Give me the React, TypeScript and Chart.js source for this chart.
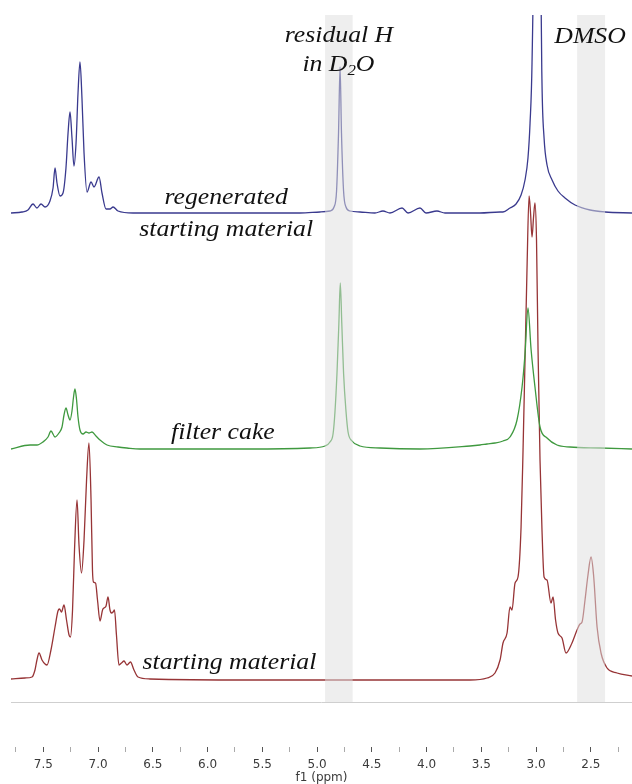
import React, { useEffect, useRef } from "react";
import { Chart, registerables } from "chart.js";

Chart.register(...registerables);

// ---- axis ----
const shiftMin = 2.124;
const shiftMax = 7.795;
const tickStep = 0.25;
const axisTitle = "f1 (ppm)";

// ---- regenerated starting material (blue) ----
const blueShift = [
  7.795, 7.695, 7.64, 7.594, 7.558, 7.521, 7.484, 7.439, 7.411, 7.393, 7.375, 7.347, 7.32, 7.293, 7.274, 7.256,
  7.238, 7.22, 7.201, 7.183, 7.165, 7.147, 7.128, 7.101, 7.064, 7.037, 6.991, 6.964, 6.927, 6.891, 6.863, 6.818,
  6.681, 6.069, 5.156, 4.973, 4.882, 4.845, 4.822, 4.804, 4.79, 4.777, 4.758, 4.736, 4.699, 4.608, 4.471, 4.398,
  4.334, 4.224, 4.169, 4.06, 4.005, 3.905, 3.832, 3.512, 3.329, 3.302, 3.238, 3.183, 3.137, 3.101, 3.074, 3.055,
  3.037, 3.019, 2.991, 2.964, 2.946, 2.927, 2.9, 2.854, 2.8, 2.736, 2.644, 2.507, 2.37, 2.124,
];
const blueIntensity = [
  0, 1, 3, 9, 5, 9, 6, 12, 25, 45, 30, 17, 20, 45, 80, 101,
  75, 47, 70, 120, 151, 115, 60, 21, 31, 26, 36, 20, 4, 4, 6, 2,
  0, 0, 0, 1, 2, 6, 22, 80, 146, 80, 22, 6, 2, 1, 0, 2,
  0, 5, 0, 5, 0, 2, 0, 0, 1, 1, 5, 9, 18, 33, 55, 90,
  150, 320, 1100, 320, 130, 75, 48, 33, 22, 15, 8, 3, 1, 0,
];

// ---- filter cake (green) ----
const greenShift = [
  7.795, 7.621, 7.558, 7.503, 7.457, 7.43, 7.393, 7.357, 7.329, 7.311, 7.293, 7.274, 7.256, 7.238, 7.224, 7.211,
  7.197, 7.183, 7.165, 7.137, 7.11, 7.083, 7.055, 7.019, 6.982, 6.918, 6.818, 6.736, 6.617, 5.612, 5.064, 4.927,
  4.882, 4.854, 4.836, 4.818, 4.801, 4.788, 4.774, 4.758, 4.736, 4.717, 4.681, 4.608, 4.425, 4.06, 3.603, 3.512,
  3.448, 3.375, 3.302, 3.238, 3.174, 3.128, 3.101, 3.074, 3.046, 3.01, 2.964, 2.9, 2.809, 2.69, 2.416, 2.124,
];
const greenIntensity = [
  0, 4, 4, 7, 12, 18, 12, 16, 22, 34, 41, 34, 29, 38, 52, 60,
  50, 32, 19, 15, 17, 16, 17, 13, 9, 4, 2, 1, 0, 0, 1, 3,
  7, 15, 38, 76, 125, 166, 125, 76, 38, 17, 8, 3, 1, 0, 3, 4,
  5, 6, 8, 12, 29, 62, 95, 141, 100, 62, 22, 11, 4, 2, 1, 0,
];

// ---- starting material (red) ----
const redShift = [
  7.795, 7.667, 7.603, 7.576, 7.558, 7.539, 7.512, 7.484, 7.466, 7.43, 7.393, 7.366, 7.352, 7.334, 7.311, 7.288,
  7.265, 7.252, 7.233, 7.215, 7.192, 7.174, 7.151, 7.128, 7.105, 7.083, 7.064, 7.051, 7.042, 7.023, 7.005, 6.982,
  6.959, 6.946, 6.927, 6.909, 6.891, 6.877, 6.863, 6.85, 6.832, 6.809, 6.786, 6.763, 6.736, 6.704, 6.672, 6.635,
  6.526, 5.612, 4.882, 4.06, 3.603, 3.448, 3.375, 3.329, 3.302, 3.265, 3.238, 3.22, 3.192, 3.165, 3.137, 3.119,
  3.101, 3.083, 3.064, 3.051, 3.037, 3.023, 3.01, 2.996, 2.982, 2.964, 2.946, 2.927, 2.9, 2.864, 2.845, 2.822,
  2.8, 2.763, 2.727, 2.672, 2.626, 2.599, 2.58, 2.553, 2.526, 2.498, 2.475, 2.443, 2.407, 2.352, 2.261, 2.124,
];
const redIntensity = [
  1, 2, 3, 10, 20, 27, 20, 16, 15, 30, 53, 69, 71, 68, 75, 60,
  45, 43, 70, 130, 180, 135, 107, 140, 200, 237, 180, 110, 98, 97, 80, 59,
  70, 72, 74, 83, 70, 67, 68, 70, 45, 15, 17, 19, 15, 18, 10, 3,
  1, 0, 0, 0, 0, 2, 7, 20, 37, 47, 73, 70, 97, 103, 153, 230,
  320, 410, 484, 468, 443, 463, 477, 440, 330, 220, 150, 103, 100, 77, 83, 60,
  47, 42, 27, 37, 50, 56, 58, 80, 105, 123, 105, 53, 27, 12, 7, 4,
];

// vertical stacking offsets of the three traces
const offsetBlue = 534;
const offsetGreen = 298;
const offsetRed = 67;
const yTop = 732;
const floorLevel = 45;

// shaded solvent regions (ppm)
const bandStart = [4.927, 2.625];
const bandEnd = [4.675, 2.37];

// annotations
const noteText = ["regenerated", "starting material", "filter cake", "starting material", "residual H", "DMSO"];
const noteShift = [5.83, 5.83, 5.86, 5.8, 4.8, 2.507];
const noteLevel = [543, 511, 308, 78, 705, 704];
const d2oParts = ["in D", "2", "O"];
const d2oShift = 4.805;
const d2oLevel = 676;

const toPoints = (xs: number[], ys: number[], off: number) => xs.map((x, i) => ({ x, y: ys[i] + off }));

const SERIF = '"Liberation Serif", "Times New Roman", serif';
const STRETCH = 1.12;

const overlayPlugin = {
  id: "nmrOverlay",
  beforeDatasetsDraw(chart: any) {
    const { ctx, chartArea, scales } = chart;
    const y = Math.round(scales.y.getPixelForValue(floorLevel)) + 0.5;
    ctx.save();
    ctx.strokeStyle = "#cfcfcf";
    ctx.lineWidth = 1;
    ctx.beginPath();
    ctx.moveTo(chartArea.left, y);
    ctx.lineTo(chartArea.right, y);
    ctx.stroke();
    ctx.restore();
  },
  afterDatasetsDraw(chart: any) {
    const { ctx, chartArea, scales } = chart;
    const yb = scales.y.getPixelForValue(floorLevel);
    ctx.save();
    ctx.fillStyle = "rgba(222,222,222,0.52)";
    for (let i = 0; i < bandStart.length; i++) {
      const a = scales.x.getPixelForValue(bandStart[i]);
      const b = scales.x.getPixelForValue(bandEnd[i]);
      ctx.fillRect(Math.min(a, b), chartArea.top, Math.abs(b - a), yb - chartArea.top);
    }
    ctx.restore();
  },
  afterDraw(chart: any) {
    const { ctx, scales } = chart;
    ctx.save();
    ctx.fillStyle = "#111";
    ctx.textBaseline = "alphabetic";
    ctx.font = `italic 23px ${SERIF}`;
    for (let i = 0; i < noteText.length; i++) {
      const px = scales.x.getPixelForValue(noteShift[i]);
      const py = scales.y.getPixelForValue(noteLevel[i]);
      ctx.save();
      ctx.translate(px, py);
      ctx.scale(STRETCH, 1);
      ctx.textAlign = "center";
      ctx.fillText(noteText[i], 0, 0);
      ctx.restore();
    }
    // "in D2O" with subscript
    const px = scales.x.getPixelForValue(d2oShift);
    const py = scales.y.getPixelForValue(d2oLevel);
    ctx.save();
    ctx.translate(px, py);
    ctx.scale(STRETCH, 1);
    ctx.textAlign = "left";
    ctx.font = `italic 23px ${SERIF}`;
    const w1 = ctx.measureText(d2oParts[0]).width;
    const w3 = ctx.measureText(d2oParts[2]).width;
    ctx.font = `italic 15px ${SERIF}`;
    const w2 = ctx.measureText(d2oParts[1]).width;
    let sx = -(w1 + w2 + w3) / 2;
    ctx.font = `italic 23px ${SERIF}`;
    ctx.fillText(d2oParts[0], sx, 0);
    sx += w1;
    ctx.font = `italic 15px ${SERIF}`;
    ctx.fillText(d2oParts[1], sx, 4);
    sx += w2;
    ctx.font = `italic 23px ${SERIF}`;
    ctx.fillText(d2oParts[2], sx, 0);
    ctx.restore();
    ctx.restore();
  },
};

const isMajor = (v: number) => Math.abs(v * 2 - Math.round(v * 2)) < 1e-6;

export default function App() {
  const ref = useRef<HTMLCanvasElement | null>(null);
  useEffect(() => {
    if (!ref.current) return;
    const line = (data: any, color: string) => ({
      data,
      borderColor: color,
      borderWidth: 1.3,
      pointRadius: 0,
      fill: false,
      cubicInterpolationMode: "monotone" as const,
    });
    const chart = new Chart(ref.current, {
      type: "line",
      data: {
        datasets: [
          line(toPoints(blueShift, blueIntensity, offsetBlue), "#3a3a8e"),
          line(toPoints(greenShift, greenIntensity, offsetGreen), "#3f993f"),
          line(toPoints(redShift, redIntensity, offsetRed), "#973436"),
        ],
      },
      options: {
        animation: false,
        responsive: false,
        devicePixelRatio: 1,
        events: [],
        layout: { padding: { left: 11, top: 15, right: 0, bottom: 0 } },
        plugins: { legend: { display: false }, tooltip: { enabled: false }, title: { display: false } },
        scales: {
          x: {
            type: "linear",
            reverse: true,
            min: shiftMin,
            max: shiftMax,
            afterFit: (scale: any) => {
              scale.height = 37;
            },
            border: { display: false },
            grid: {
              drawOnChartArea: false,
              drawTicks: true,
              tickLength: 5,
              tickColor: (c: any) => (c.tick && isMajor(c.tick.value) ? "#555" : "#aaa"),
            },
            ticks: {
              stepSize: tickStep,
              autoSkip: false,
              includeBounds: false,
              maxRotation: 0,
              padding: 6,
              color: "#3a3a3a",
              font: { family: '"DejaVu Sans", Verdana, sans-serif', size: 12 },
              callback: (v: any) => (isMajor(Number(v)) ? Number(v).toFixed(1) : ""),
            },
            title: {
              display: true,
              text: axisTitle,
              color: "#3a3a3a",
              font: { family: '"DejaVu Sans", Verdana, sans-serif', size: 12, lineHeight: 1 },
              padding: { top: 0, bottom: 0 },
            },
          },
          y: { type: "linear", display: false, min: 0, max: yTop },
        },
      },
      plugins: [overlayPlugin],
    });
    return () => chart.destroy();
  }, []);
  return (
    <div style={{ position: "fixed", left: 0, top: 0, width: 632, height: 784, background: "#fff" }}>
      <canvas ref={ref} width={632} height={784} style={{ display: "block" }} />
    </div>
  );
}
